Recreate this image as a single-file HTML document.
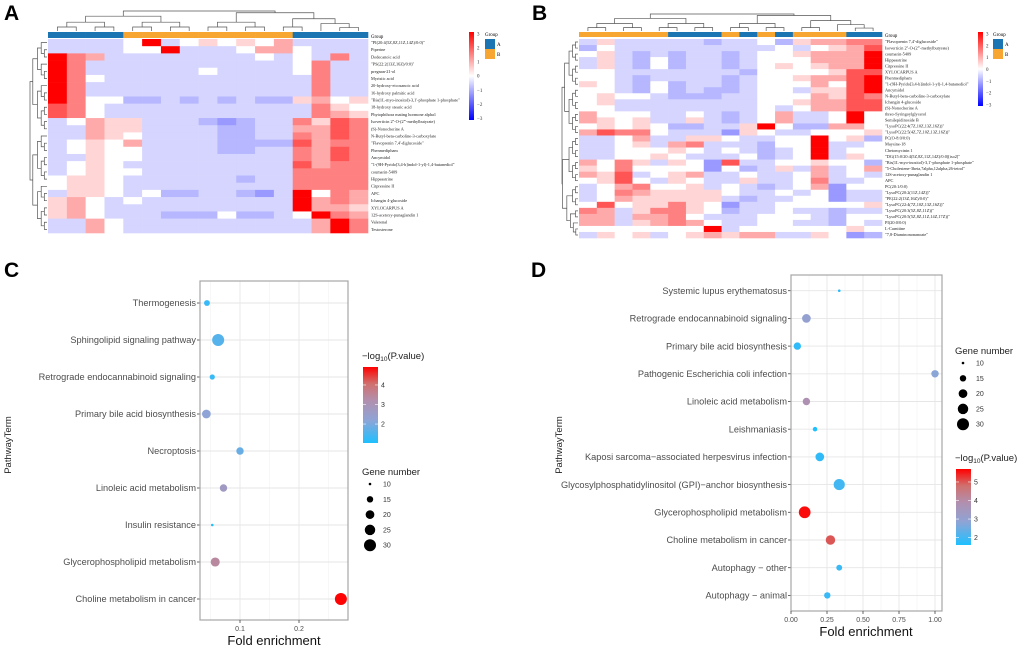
<!DOCTYPE html>
<html><head><meta charset="utf-8"><style>
html,body{margin:0;padding:0;background:#fff;}
svg{display:block;font-family:"Liberation Sans",sans-serif;}
</style></head><body>
<svg id="fig" width="1020" height="648" viewBox="0 0 1020 648">
<text x="4" y="20" font-size="21" font-weight="bold">A</text>
<text x="532" y="20" font-size="21" font-weight="bold">B</text>
<text x="4" y="277" font-size="21" font-weight="bold">C</text>
<text x="531" y="277" font-size="21" font-weight="bold">D</text>
<g id="pa"></g>
<g id="pb"></g>
<g id="pc"></g>
<g id="pd"></g>
</svg>
<script>
// ---------- Heatmap A data ----------
const aLabels = ['"PI(20:4(5Z,8Z,11Z,14Z)/0:0)"','Piperine','Dodecanoic acid','"PS(22:2(13Z,16Z)/0:0)"','pregnan-21-ol','Myristic acid','20-hydroxy-eicosanoic acid','16-hydroxy palmitic acid','"Bis(1L-myo-inositol)-3,1\'-phosphate 1-phosphate"','18-hydroxy stearic acid','Phytophthora mating hormone alpha1','Isoverticin 2\'\'-O-(2\'\'\'-methylbutyrate)','(S)-Nonocherine A','N-Butyl-beta-carboline-3-carboxylate','"Flavoprenin 7,4\'-diglucoside"','Phenmedipham','Ancymidol','"1-(9H-Pyrido[3,4-b]indol-1-yl)-1,4-butanediol"','coumarin-5409','Hippeastrine','Citpressine II','APC','Ichangin 4-glucoside','XYLOCARPUS A','12S-acetoxy-punaglandin 1','Valerenal','Testosterone'];
const aGroups = 'AAAABBBBBBBBBAAAA';
const aValues = [
'33334934545463333','33334493334664333','97633333333434373','97333333333334733','97333333433334733',
'97433333333333733','97333333333333733','97333333333333733','97442232323225645','87433333333333754',
'87433333333333765','34655333212337587','33655333322336687','33654333322337687','34546333322228677',
'34544333322337687','33544333333337687','34543333333338677','34544333333337777','45543333332337777',
'45543333333337777','35543422332139476','56434333333339676','56433333333339665','56433322242234976',
'33643333333333697','33643333333333697'];
// ---------- Heatmap B data ----------
const bLabels = ['"Flavoprenin 7,4\'-diglucoside"','Isoverticin 2\'\'-O-(2\'\'\'-methylbutyrate)','coumarin-5409','Hippeastrine','Citpressine II','XYLOCARPUS A','Phenmedipham','"1-(9H-Pyrido[3,4-b]indol-1-yl)-1,4-butanediol"','Ancymidol','N-Butyl-beta-carboline-3-carboxylate','Ichangin 4-glucoside','(S)-Nonocherine A','threo-Syringoylglycerol','Semilepidinoside B','"LysoPC(22:4(7Z,10Z,13Z,16Z))"','"LysoPC(22:5(4Z,7Z,10Z,13Z,16Z))"','PC(O-8:0/0:0)','Maysine-18','Chetomycinin 1','"DG(15:0/20:4(5Z,8Z,11Z,14Z)/0:0)[iso2]"','"Bis(1L-myo-inositol)-3,1\'-phosphate 1-phosphate"','"5-Cholestene-3beta,7alpha,12alpha,26-tetrol"','12S-acetoxy-punaglandin 1','APC','PC(20:1/0:0)','"LysoPC(20:2(11Z,14Z))"','"PE(22:2(13Z,16Z)/0:0)"','"LysoPC(22:4(7Z,10Z,13Z,16Z))"','"LysoPC(20:3(5Z,8Z,11Z))"','"LysoPC(20:5(5Z,8Z,11Z,14Z,17Z))"','PI(20:0/0:0)','L-Carnitine','"7,8-Diaminononanoate"'];
const bGroups = 'BBBBBAAABABABBBAA';
const bValues = [
'35333332334256677','24333333333434568','45323233234456669','35324233234446669','35324233234545669',
'44333333324444588','44323333234456689','54324233234446489','44324232234435589','45443222334446587',
'45333333334456688','44333333334346688','64443343234633494','65453353234633494','45454223359422664',
'68774333154334445','33463355433449452','33453673332449334','33444543432349344','33445433342349354',
'64753541833445442','54744441423536346','65834563343346343','45843543353347334','34674453432346144',
'34765555433434133','34655555323344133','48455754133444445','76357754233433233','66366743334443244',
'66356764334433243','44444449344444454','35453456566335412'];
// ---------- Panel C data ----------
const cTerms = ['Thermogenesis','Sphingolipid signaling pathway','Retrograde endocannabinoid signaling','Primary bile acid biosynthesis','Necroptosis','Linoleic acid metabolism','Insulin resistance','Glycerophospholipid metabolism','Choline metabolism in cancer'];
const cFold = [0.044,0.063,0.053,0.043,0.100,0.072,0.053,0.058,0.271];
const cGenes = [14,30,13,20,17,17,10,21,30];
const cLogP = [1.3,1.6,1.3,2.2,1.8,2.7,1.1,3.4,4.9];
const cXTicks = [0.1,0.2];
// ---------- Panel D data ----------
const dTerms = ['Systemic lupus erythematosus','Retrograde endocannabinoid signaling','Primary bile acid biosynthesis','Pathogenic Escherichia coli infection','Linoleic acid metabolism','Leishmaniasis','Kaposi sarcoma\u2212associated herpesvirus infection','Glycosylphosphatidylinositol (GPI)\u2212anchor biosynthesis','Glycerophospholipid metabolism','Choline metabolism in cancer','Autophagy \u2212 other','Autophagy \u2212 animal'];
const dFold = [0.335,0.107,0.044,1.0,0.107,0.167,0.2,0.335,0.095,0.274,0.335,0.252];
const dGenes = [10,20,17,17,17,12,20,27,29,22,14,15];
const dLogP = [1.8,3.0,1.8,2.8,3.8,1.6,1.8,2.0,5.6,5.0,1.9,1.9];
const dXTicks = [0,0.25,0.5,0.75,1.0];
const dXTickLabels = ['0.00','0.25','0.50','0.75','1.00'];
const sizeLegend = [10,15,20,25,30];

const NS='http://www.w3.org/2000/svg';
function mk(parent,tag,attrs,txt){const e=document.createElementNS(NS,tag);for(const k in attrs)e.setAttribute(k,attrs[k]);if(txt!==undefined)e.textContent=txt;parent.appendChild(e);return e;}
function codeVal(c){return [-1.6,-1.2,-0.85,-0.5,0,0.5,1,1.5,2,3][+c];}
function heatColor(v){const t=Math.min(1,Math.abs(v)/3);const c=Math.round(255*(1-t));return v<0?`rgb(${c},${c},255)`:`rgb(255,${c},${c})`;}
const GC={A:'#1b75b3',B:'#f7a632'};

function dendroCols(g,n,x0,cw,yBottom,yTop){
  function rec(a,b,depth){
    if(b-a===1)return [x0+cw*(a+0.5),yBottom];
    const m=Math.floor((a+b)/2);const L=rec(a,m,depth+1),R=rec(m,b,depth+1);
    const y=Math.min(L[1],R[1])-(yBottom-yTop)/(depth+3)*1.2;
    const yy=depth===0?yTop:Math.max(yTop,y);
    const p=mk(g,'path',{d:`M${L[0]},${L[1]}V${yy}H${R[0]}V${R[1]}`,fill:'none',stroke:'#555','stroke-width':0.7});
    
    
    return [(L[0]+R[0])/2,yy];
  }
  rec(0,n,0);
}
function dendroRows(g,n,y0,rh,xRight,xLeft){
  function rec(a,b,depth){
    if(b-a===1)return [y0+rh*(a+0.5),xRight];
    const m=Math.floor((a+b)/2);const L=rec(a,m,depth+1),R=rec(m,b,depth+1);
    const x=Math.min(L[1],R[1])-(xRight-xLeft)/(depth+3)*1.1;
    const xx=depth===0?xLeft:Math.max(xLeft,x);
    const p=mk(g,'path',{d:`M${L[1]},${L[0]}H${xx}V${R[0]}H${R[1]}`,fill:'none',stroke:'#555','stroke-width':0.7});
    
    
    return [(L[0]+R[0])/2,xx];
  }
  rec(0,n,0);
}

function heatmap(g,o){
  const nR=o.values.length,nC=o.values[0].length;
  const cw=(o.x1-o.x0)/nC,rh=(o.y1-o.y0)/nR;
  dendroCols(g,nC,o.x0,cw,o.gy0-1,o.dTop);
  dendroRows(g,nR,o.y0,rh,o.x0-1,o.dLeft);
  for(let c=0;c<nC;c++){
    const r=mk(g,'rect',{x:o.x0+c*cw,y:o.gy0,width:cw+0.3,height:o.gy1-o.gy0,fill:GC[o.groups[c]]});
    
    
  }
  const gt=mk(g,'text',{x:o.x1+3,y:o.gy1,'font-size':4.8,'font-family':'Liberation Serif,serif'},'Group');
  
  
  for(let r=0;r<nR;r++){
    for(let c=0;c<nC;c++){
      const v=codeVal(o.values[r][c]);
      const e=mk(g,'rect',{x:o.x0+c*cw,y:o.y0+r*rh,width:cw+0.3,height:rh+0.3,fill:heatColor(v)});
      
      
    }
    const t=mk(g,'text',{x:o.x1+3,y:o.y0+r*rh+rh*0.7,'font-size':4.3,'font-family':'Liberation Serif,serif',fill:'#222'},o.labels[r]);
    
    
  }
  const gid='hg'+o.id;
  const defs=mk(g,'defs',{});const lg=mk(defs,'linearGradient',{id:gid,x1:0,y1:0,x2:0,y2:1});
  mk(lg,'stop',{offset:'0','stop-color':'#ff0000'});mk(lg,'stop',{offset:'0.5','stop-color':'#ffffff'});mk(lg,'stop',{offset:'1','stop-color':'#0000ff'});
  const cb=mk(g,'rect',{x:o.cbx,y:o.cby0,width:5,height:o.cby1-o.cby0,fill:`url(#${gid})`});
  
  
  for(let k=3;k>=-3;k--){
    const y=o.cby0+(3-k)/6*(o.cby1-o.cby0)*0.96+2;
    const t=mk(g,'text',{x:o.cbx+8,y:y+1.5,'font-size':5,'font-family':'Liberation Serif,serif',fill:'#333'},k<0?'\u2212'+(-k):String(k));
    
    
  }
  const lt=mk(g,'text',{x:o.lgx,y:o.cby0+4,'font-size':5,'font-family':'Liberation Serif,serif'},'Group');
  
  
  ['A','B'].forEach((k,i)=>{
    const r=mk(g,'rect',{x:o.lgx,y:o.cby0+7+i*10,width:10,height:10,fill:GC[k]});
    
    
    const t=mk(g,'text',{x:o.lgx+12,y:o.cby0+14+i*10,'font-size':5,'font-family':'Liberation Serif,serif'},k);
    
    
  });
}
heatmap(document.getElementById('pa'),{id:'a',values:aValues,labels:aLabels,groups:aGroups,x0:48,x1:368,y0:39,y1:233,gy0:32,gy1:38,dTop:11,dLeft:30,cbx:469,cby0:32,cby1:120,lgx:485});
heatmap(document.getElementById('pb'),{id:'b',values:bValues,labels:bLabels,groups:bGroups,x0:579,x1:882,y0:39,y1:238,gy0:32,gy1:37,dTop:14,dLeft:562,cbx:978,cby0:32,cby1:106,lgx:993});

function lerp(a,b,t){return Math.round(a+(b-a)*t);}
const stops=[[0,[30,192,255]],[0.3,[142,164,214]],[0.55,[176,144,176]],[0.78,[208,112,110]],[1,[255,0,0]]];
function ramp(t){t=Math.max(0,Math.min(1,t));for(let i=1;i<stops.length;i++){if(t<=stops[i][0]){const a=stops[i-1],b=stops[i];const u=(t-a[0])/(b[0]-a[0]);return `rgb(${lerp(a[1][0],b[1][0],u)},${lerp(a[1][1],b[1][1],u)},${lerp(a[1][2],b[1][2],u)})`;}}return 'rgb(255,0,0)';}
function rSize(n){return Math.sqrt(Math.max(1.6,1.72*n-15.5));}

function bubble(g,o){
  const xs=v=>o.px0+(v-o.xmin)*o.kx;
  const ys=i=>o.ry0+i*o.rstep;
  mk(g,'rect',{x:o.bx0,y:o.by0,width:o.bx1-o.bx0,height:o.by1-o.by0,fill:'#fff'});
  o.minor.forEach(v=>{const l=mk(g,'line',{x1:xs(v),x2:xs(v),y1:o.by0,y2:o.by1,stroke:'#f2f2f2','stroke-width':0.6});});
  o.ticks.forEach(v=>{const l=mk(g,'line',{x1:xs(v),x2:xs(v),y1:o.by0,y2:o.by1,stroke:'#e6e6e6','stroke-width':0.9});});
  o.terms.forEach((t,i)=>{
    const l=mk(g,'line',{x1:o.bx0,x2:o.bx1,y1:ys(i),y2:ys(i),stroke:'#e6e6e6','stroke-width':0.9});
    
    
    mk(g,'line',{x1:o.bx0-3,x2:o.bx0,y1:ys(i),y2:ys(i),stroke:'#444','stroke-width':0.8});
    const tx=mk(g,'text',{x:o.bx0-4,y:ys(i)+3.2,'font-size':9.2,'text-anchor':'end',fill:'#4d4d4d'},t);
    
    
  });
  const fr=mk(g,'rect',{x:o.bx0,y:o.by0,width:o.bx1-o.bx0,height:o.by1-o.by0,fill:'none',stroke:'#a6a6a6','stroke-width':1.2});
  
  
  o.ticks.forEach((v,i)=>{
    mk(g,'line',{x1:xs(v),x2:xs(v),y1:o.by1,y2:o.by1+3,stroke:'#444','stroke-width':0.8});
    const t=mk(g,'text',{x:xs(v),y:o.by1+11,'font-size':7,'text-anchor':'middle',fill:'#4d4d4d'},o.tickLabels[i]);
    
    
  });
  o.fold.forEach((f,i)=>{
    const c=mk(g,'circle',{cx:xs(f),cy:ys(i),r:rSize(o.genes[i]),fill:ramp((o.logp[i]-o.cmin)/(o.cmax-o.cmin))});
    
    
  });
  const xt=mk(g,'text',{x:o.xtx,y:o.xty,'font-size':13,'text-anchor':'middle',fill:'#111'},'Fold enrichment');
  
  
  const yt=mk(g,'text',{x:0,y:0,'font-size':9.5,'text-anchor':'middle',fill:'#222',transform:`translate(${o.ytx},${o.yty}) rotate(-90)`},'PathwayTerm');
  
  
  const ct=mk(g,'text',{x:o.clx-1,y:o.cly0-8,'font-size':9.5,fill:'#222'});
  
  
  mk(ct,'tspan',{},'\u2212log');mk(ct,'tspan',{'font-size':6.5,dy:2},'10');mk(ct,'tspan',{dy:-2},'(P.value)');
  const gid='cg'+o.id;
  const defs=mk(g,'defs',{});const lg=mk(defs,'linearGradient',{id:gid,x1:0,y1:1,x2:0,y2:0});
  stops.forEach(s=>mk(lg,'stop',{offset:s[0],'stop-color':`rgb(${s[1].join(',')})`}));
  const cb=mk(g,'rect',{x:o.clx,y:o.cly0,width:15,height:o.cly1-o.cly0,fill:`url(#${gid})`});
  
  
  o.cticks.forEach(v=>{
    const y=o.cly1-(v-o.cmin)/(o.cmax-o.cmin)*(o.cly1-o.cly0);
    mk(g,'line',{x1:o.clx,x2:o.clx+3,y1:y,y2:y,stroke:'#fff','stroke-width':0.6});
    mk(g,'line',{x1:o.clx+12,x2:o.clx+15,y1:y,y2:y,stroke:'#fff','stroke-width':0.6});
    const t=mk(g,'text',{x:o.clx+18,y:y+2.5,'font-size':7,fill:'#333'},String(v));
    
    
  });
  const st=mk(g,'text',{x:o.slx-1,y:o.sly0-9,'font-size':9.5,fill:'#222'},'Gene number');
  
  
  sizeLegend.forEach((n,i)=>{
    const y=o.sly0+i*15.3;
    const c=mk(g,'circle',{cx:o.slx+7,cy:y,r:rSize(n),fill:'#000'});
    
    
    const t=mk(g,'text',{x:o.slx+20,y:y+2.5,'font-size':7,fill:'#333'},String(n));
    
    
  });
}
bubble(document.getElementById('pc'),{id:'c',terms:cTerms,fold:cFold,genes:cGenes,logp:cLogP,
  ticks:cXTicks,tickLabels:cXTicks.map(String),minor:[0.05,0.15,0.25],xmin:0,px0:181,kx:590,
  bx0:200,bx1:348,by0:281,by1:620,ry0:303,rstep:37,cmin:1.03,cmax:4.92,cticks:[2,3,4],
  xtx:274,xty:645,ytx:11,yty:445,clx:363,cly0:367,cly1:443,slx:363,sly0:484});
bubble(document.getElementById('pd'),{id:'d',terms:dTerms,fold:dFold,genes:dGenes,logp:dLogP,
  ticks:dXTicks,tickLabels:dXTickLabels,minor:[0.125,0.375,0.625,0.875],xmin:0,px0:791,kx:144,
  bx0:791,bx1:942,by0:275,by1:611,ry0:290.7,rstep:27.7,cmin:1.6,cmax:5.7,cticks:[2,3,4,5],
  xtx:866,xty:636,ytx:562,yty:445,clx:956,cly0:469,cly1:545,slx:956,sly0:363});
</script>
</body></html>
